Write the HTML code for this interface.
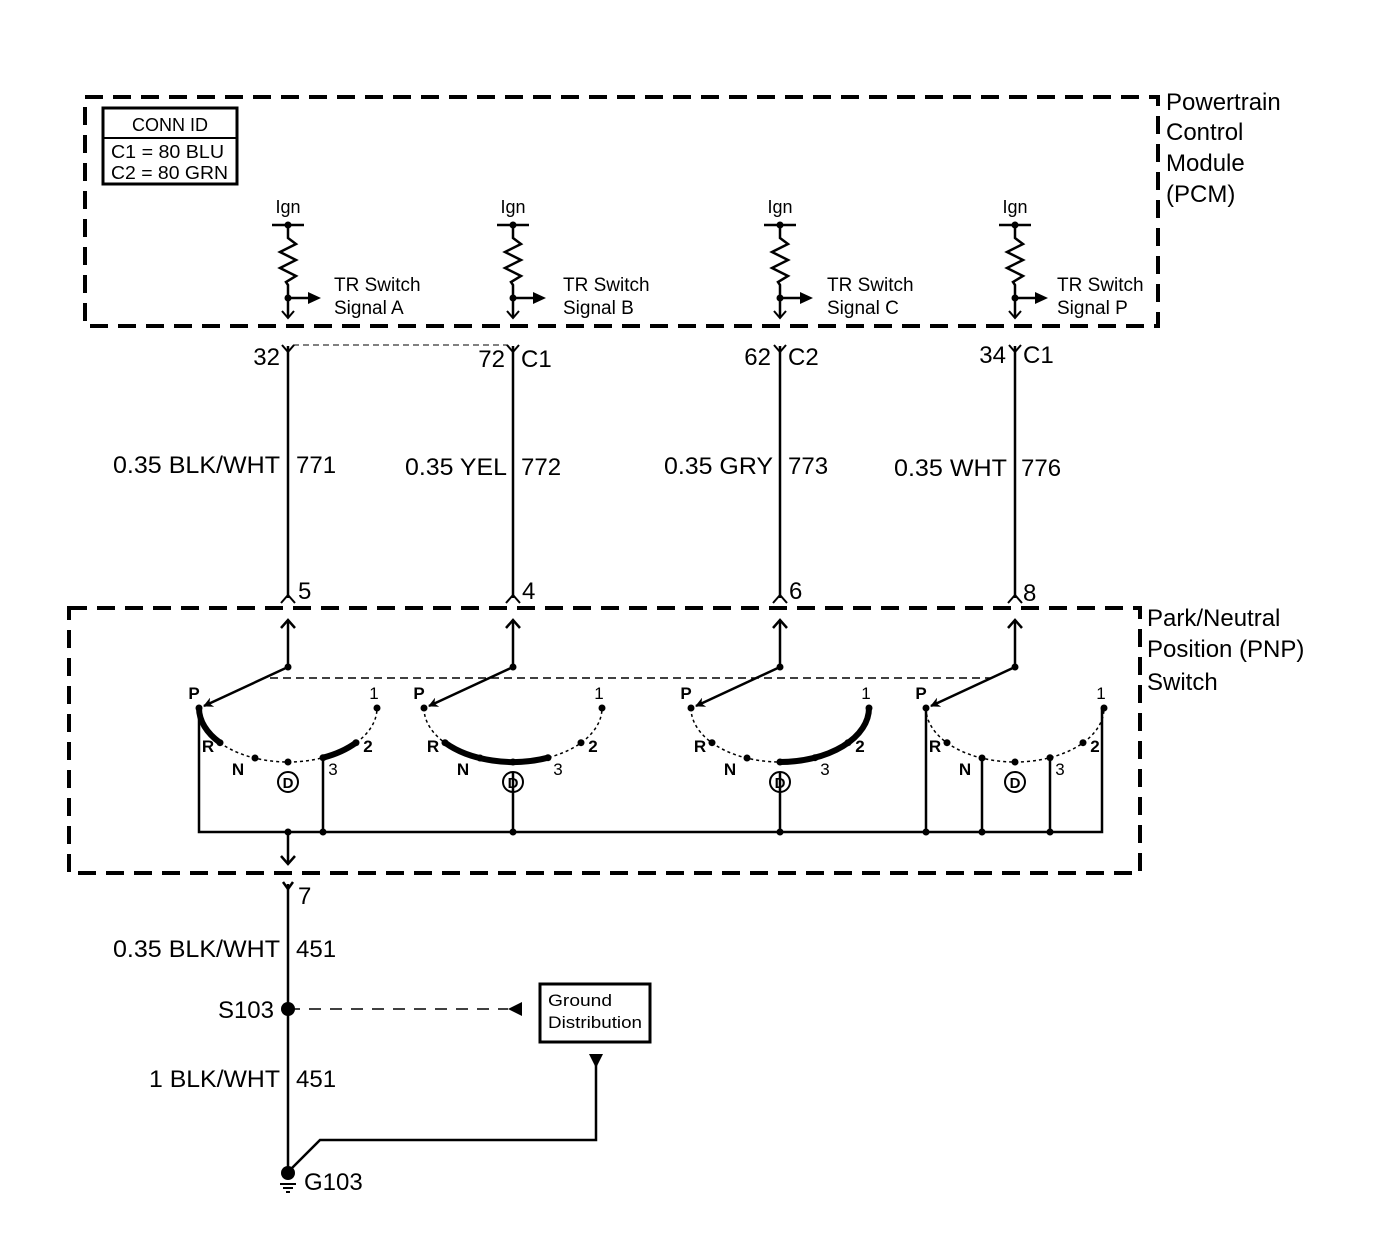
<!DOCTYPE html>
<html><head><meta charset="utf-8"><style>
html,body{margin:0;padding:0;background:#fff}
svg{display:block}
text{font-family:"Liberation Sans",Arial,sans-serif;fill:#000}
</style></head><body>
<svg width="1400" height="1248" viewBox="0 0 1400 1248" xmlns="http://www.w3.org/2000/svg">
<defs>
<marker id="ah" markerWidth="10" markerHeight="10" refX="9" refY="5" orient="auto" markerUnits="userSpaceOnUse"><path d="M0,0 L10,5 L0,10 L3,5 Z" fill="#000"/></marker>
<g id="res">
  <text x="0" y="213" font-size="18" text-anchor="middle">Ign</text>
  <line x1="-16" y1="225" x2="16" y2="225" stroke="#000" stroke-width="2.5"/>
  <circle cx="0" cy="225" r="3.5"/>
  <polyline points="0,225 0,238 8,244 -8,252 8,260 -8,268 8,276 -2,282 0,285 0,318" fill="none" stroke="#000" stroke-width="2.5"/>
  <circle cx="0" cy="298" r="3.5"/>
  <line x1="0" y1="298" x2="22" y2="298" stroke="#000" stroke-width="2.5"/>
  <path d="M20,292 L33,298 L20,304 Z"/>
  <polyline points="-6,311 0,318 6,311" fill="none" stroke="#000" stroke-width="2"/>
</g>
<g id="sw">
  <line x1="0" y1="346" x2="0" y2="598" stroke="#000" stroke-width="2.5"/>
  <polyline points="-6,345 0,352 6,345" fill="none" stroke="#000" stroke-width="2"/>
  <polyline points="-7,603 0,595 7,603" fill="none" stroke="#000" stroke-width="2"/>
  <line x1="0" y1="620" x2="0" y2="667" stroke="#000" stroke-width="2.5"/>
  <polyline points="-7,628 0,620 7,628" fill="none" stroke="#000" stroke-width="2.5"/>
  <circle cx="0" cy="667" r="3.5"/>
  <line x1="0" y1="667" x2="-84" y2="706" stroke="#000" stroke-width="2.5" marker-end="url(#ah)"/>
  <path d="M-89,708 A89 54 0 0 0 89,708" fill="none" stroke="#000" stroke-width="1.5" stroke-dasharray="3,3"/>
  <circle cx="-89" cy="708" r="3.5"/><circle cx="-68" cy="742.7" r="3.5"/><circle cx="-33" cy="758" r="3.5"/>
  <circle cx="0" cy="762" r="3.5"/><circle cx="35" cy="757.7" r="3.5"/><circle cx="68" cy="742.7" r="3.5"/><circle cx="89" cy="708" r="3.5"/>
  <text x="-94" y="699" font-size="17" font-weight="bold" text-anchor="middle">P</text>
  <text x="86" y="699" font-size="17" text-anchor="middle">1</text>
  <text x="-80" y="752" font-size="17" font-weight="bold" text-anchor="middle">R</text>
  <text x="-50" y="775" font-size="17" font-weight="bold" text-anchor="middle">N</text>
  <circle cx="0" cy="782" r="10" fill="#fff" stroke="#000" stroke-width="2"/>
  <text x="0" y="788" font-size="15" font-weight="bold" text-anchor="middle">D</text>
  <text x="45" y="775" font-size="17" text-anchor="middle">3</text>
  <text x="80" y="752" font-size="17" font-weight="bold" text-anchor="middle">2</text>
</g>
</defs>

<rect x="85" y="97" width="1073" height="229" fill="none" stroke="#000" stroke-width="4" stroke-dasharray="18,10"/>
<rect x="103" y="108" width="134" height="76" fill="none" stroke="#000" stroke-width="3"/>
<line x1="103" y1="138" x2="237" y2="138" stroke="#000" stroke-width="2"/>
<text x="170" y="131" font-size="18" text-anchor="middle">CONN ID</text>
<text x="111" y="158" font-size="18" textLength="113" lengthAdjust="spacingAndGlyphs">C1 = 80 BLU</text>
<text x="111" y="179" font-size="18" textLength="117" lengthAdjust="spacingAndGlyphs">C2 = 80 GRN</text>
<g font-size="24">
<text x="1166" y="110">Powertrain</text>
<text x="1166" y="140">Control</text>
<text x="1166" y="171">Module</text>
<text x="1166" y="202">(PCM)</text>
</g>

<use href="#res" transform="translate(288,0)"/>
<use href="#res" transform="translate(513,0)"/>
<use href="#res" transform="translate(780,0)"/>
<use href="#res" transform="translate(1015,0)"/>
<g font-size="19">
<text x="334" y="291">TR Switch</text><text x="334" y="314">Signal A</text>
<text x="563" y="291">TR Switch</text><text x="563" y="314">Signal B</text>
<text x="827" y="291">TR Switch</text><text x="827" y="314">Signal C</text>
<text x="1057" y="291">TR Switch</text><text x="1057" y="314">Signal P</text>
</g>

<line x1="293" y1="345" x2="508" y2="345" stroke="#000" stroke-width="1" stroke-dasharray="6,4"/>

<rect x="69" y="608" width="1071" height="265" fill="none" stroke="#000" stroke-width="4" stroke-dasharray="18,10"/>
<g font-size="24">
<text x="1147" y="626">Park/Neutral</text>
<text x="1147" y="657">Position (PNP)</text>
<text x="1147" y="690">Switch</text>
</g>
<line x1="270" y1="678" x2="992" y2="678" stroke="#000" stroke-width="1.5" stroke-dasharray="8,5"/>

<use href="#sw" transform="translate(288,0)"/>
<use href="#sw" transform="translate(513,0)"/>
<use href="#sw" transform="translate(780,0)"/>
<use href="#sw" transform="translate(1015,0)"/>

<g font-size="24">
<text x="280" y="365" text-anchor="end">32</text>
<text x="505" y="367" text-anchor="end">72</text><text x="521" y="367">C1</text>
<text x="771" y="365" text-anchor="end">62</text><text x="788" y="365">C2</text>
<text x="1006" y="363" text-anchor="end">34</text><text x="1023" y="363">C1</text>
<text x="280" y="473" text-anchor="end" textLength="167" lengthAdjust="spacingAndGlyphs">0.35 BLK/WHT</text><text x="296" y="473">771</text>
<text x="507" y="475" text-anchor="end" textLength="102" lengthAdjust="spacingAndGlyphs">0.35 YEL</text><text x="521" y="475">772</text>
<text x="773" y="474" text-anchor="end" textLength="109" lengthAdjust="spacingAndGlyphs">0.35 GRY</text><text x="788" y="474">773</text>
<text x="1007" y="476" text-anchor="end" textLength="113" lengthAdjust="spacingAndGlyphs">0.35 WHT</text><text x="1021" y="476">776</text>
<text x="298" y="599">5</text><text x="522" y="599">4</text><text x="789" y="599">6</text><text x="1023" y="601">8</text>
</g>

<g fill="none" stroke="#000" stroke-width="6" stroke-linecap="round">
<path d="M199,708 A89 54 0 0 0 220,742.7"/>
<path d="M323,757.7 A89 54 0 0 0 356,742.7"/>
<path d="M445,742.7 A89 54 0 0 0 548,757.7"/>
<path d="M780,762 A89 54 0 0 0 869,708"/>
</g>

<g stroke="#000" stroke-width="2.5" fill="none">
<polyline points="199,708 199,832 1102,832 1102,708"/>
<line x1="323" y1="758" x2="323" y2="832"/>
<line x1="513" y1="772" x2="513" y2="832"/>
<line x1="780" y1="772" x2="780" y2="832"/>
<line x1="926" y1="708" x2="926" y2="832"/>
<line x1="982" y1="758" x2="982" y2="832"/>
<line x1="1050" y1="758" x2="1050" y2="832"/>
<line x1="288" y1="832" x2="288" y2="864"/>
<polyline points="281,856 288,864 295,856"/>
</g>
<circle cx="288" cy="832" r="3.5"/><circle cx="323" cy="832" r="3.5"/><circle cx="513" cy="832" r="3.5"/>
<circle cx="780" cy="832" r="3.5"/><circle cx="926" cy="832" r="3.5"/><circle cx="982" cy="832" r="3.5"/><circle cx="1050" cy="832" r="3.5"/>

<g stroke="#000" stroke-width="2.5" fill="none">
<line x1="288" y1="884" x2="288" y2="1170"/>
<polyline points="283,882 288,889 293,882"/>
<line x1="288" y1="1009" x2="508" y2="1009" stroke-dasharray="12,9" stroke-width="1.5"/>
<rect x="540" y="984" width="110" height="58" stroke-width="3"/>
<polyline points="596,1062 596,1140 320,1140 290,1170"/>
<line x1="280" y1="1184" x2="296" y2="1184" stroke-width="2"/>
<line x1="283" y1="1188" x2="293" y2="1188" stroke-width="2"/>
<line x1="286" y1="1192" x2="290" y2="1192" stroke-width="2"/>
</g>
<path d="M522,1002 L508,1009 L522,1016 Z"/>
<path d="M589,1054 L603,1054 L596,1068 Z"/>
<circle cx="288" cy="1009" r="7"/>
<circle cx="288" cy="1173" r="7"/>
<text x="548" y="1006" font-size="17" textLength="64" lengthAdjust="spacingAndGlyphs">Ground</text>
<text x="548" y="1028" font-size="17" textLength="94" lengthAdjust="spacingAndGlyphs">Distribution</text>
<g font-size="24">
<text x="298" y="904">7</text>
<text x="280" y="957" text-anchor="end" textLength="167" lengthAdjust="spacingAndGlyphs">0.35 BLK/WHT</text><text x="296" y="957">451</text>
<text x="274" y="1018" text-anchor="end">S103</text>
<text x="280" y="1087" text-anchor="end" textLength="131" lengthAdjust="spacingAndGlyphs">1 BLK/WHT</text><text x="296" y="1087">451</text>
<text x="304" y="1190">G103</text>
</g>
</svg>
</body></html>
